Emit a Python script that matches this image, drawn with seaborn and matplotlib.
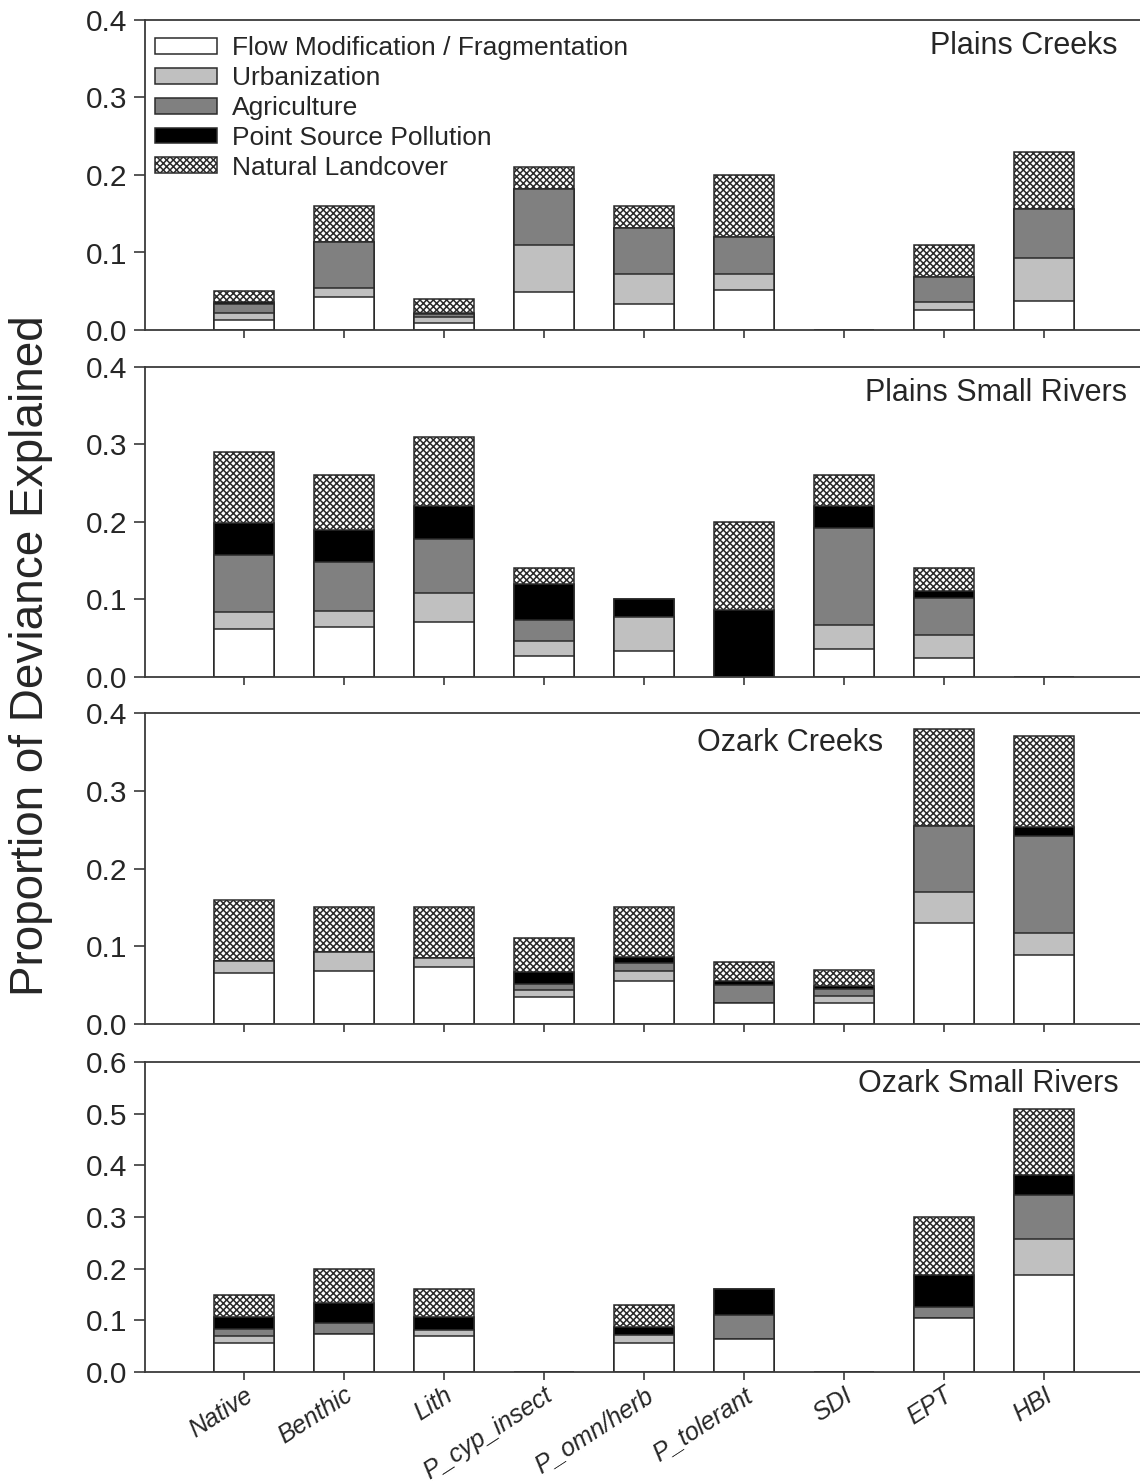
import matplotlib
matplotlib.use('Agg')
import matplotlib.pyplot as plt
import numpy as np
import seaborn as sns
from matplotlib.patches import Patch
from matplotlib.ticker import FormatStrFormatter, MultipleLocator

metrics = ['Native', 'Benthic', 'Lith', 'P_cyp_insect', 'P_omn/herb',
           'P_tolerant', 'SDI', 'EPT', 'HBI']
stressors = ['Flow Modification / Fragmentation', 'Urbanization',
             'Agriculture', 'Point Source Pollution', 'Natural Landcover']

# Plains Creeks
pc_flow = [0.013, 0.043, 0.009, 0.049, 0.034, 0.052, 0, 0.026, 0.037]
pc_urban = [0.009, 0.011, 0.008, 0.061, 0.038, 0.020, 0, 0.010, 0.056]
pc_agri = [0.011, 0.059, 0.004, 0.072, 0.060, 0.048, 0, 0.032, 0.063]
pc_point = [0.003, 0, 0.001, 0, 0, 0, 0, 0, 0]
pc_natural = [0.014, 0.047, 0.018, 0.028, 0.028, 0.080, 0, 0.042, 0.074]

# Plains Small Rivers
psr_flow = [0.062, 0.065, 0.071, 0.027, 0.034, 0, 0.036, 0.024, 0]
psr_urban = [0.022, 0.020, 0.037, 0.019, 0.043, 0, 0.031, 0.030, 0]
psr_agri = [0.073, 0.064, 0.070, 0.028, 0, 0, 0.125, 0.048, 0]
psr_point = [0.042, 0.041, 0.043, 0.046, 0.023, 0.086, 0.028, 0.009, 0]
psr_natural = [0.091, 0.070, 0.089, 0.020, 0, 0.114, 0.040, 0.029, 0]

# Ozark Creeks
oc_flow = [0.065, 0.068, 0.073, 0.035, 0.055, 0.027, 0.027, 0.130, 0.089]
oc_urban = [0.016, 0.024, 0.012, 0.009, 0.013, 0, 0.009, 0.040, 0.028]
oc_agri = [0, 0, 0, 0.007, 0.010, 0.023, 0.009, 0.085, 0.125]
oc_point = [0, 0, 0, 0.016, 0.008, 0.005, 0.004, 0, 0.012]
oc_natural = [0.079, 0.058, 0.065, 0.043, 0.064, 0.025, 0.021, 0.125, 0.116]

# Ozark Small Rivers
osr_flow = [0.056, 0.074, 0.070, 0, 0.056, 0.063, 0, 0.105, 0.188]
osr_urban = [0.014, 0, 0.011, 0, 0.015, 0, 0, 0, 0.069]
osr_agri = [0.014, 0.020, 0, 0, 0, 0.047, 0, 0.021, 0.086]
osr_point = [0.022, 0.039, 0.026, 0, 0.016, 0.050, 0, 0.061, 0.038]
osr_natural = [0.044, 0.067, 0.053, 0, 0.043, 0, 0, 0.113, 0.129]

panels = [
    ('Plains Creeks', [pc_flow, pc_urban, pc_agri, pc_point, pc_natural], 0.4),
    ('Plains Small Rivers', [psr_flow, psr_urban, psr_agri, psr_point, psr_natural], 0.4),
    ('Ozark Creeks', [oc_flow, oc_urban, oc_agri, oc_point, oc_natural], 0.4),
    ('Ozark Small Rivers', [osr_flow, osr_urban, osr_agri, osr_point, osr_natural], 0.6),
]

sns.set_style('ticks')
plt.rcParams['font.family'] = ['Liberation Sans', 'DejaVu Sans']
plt.rcParams['hatch.linewidth'] = 1.1

fills = ['white', '#c0c0c0', '#808080', 'black', 'white']
hatches = [None, None, None, None, 'xxxxx']
edge = '#2b2b2b'
spine_col = '#3a3a3a'

# axes boxes in pixels (top, bottom) of the 1140x1483 figure
W, H = 1140, 1483
boxes = [(20, 330), (367, 677), (713, 1024), (1062, 1372)]
left_px = 145

# title placement (x, y) in axes fraction, right aligned
title_pos = [(0.977, 0.916), (0.987, 0.916), (0.742, 0.904), (0.979, 0.929)]

fig = plt.figure(figsize=(W / 100, H / 100), dpi=100)

for i, (name, layers, ymax) in enumerate(panels):
    top, bot = boxes[i]
    ax = fig.add_axes([left_px / W, 1 - bot / H, 1 - left_px / W, (bot - top) / H])
    cum = np.cumsum(np.array(layers), axis=0)
    # draw from the tallest cumulative layer down so lower layers sit on top
    for k in reversed(range(len(layers))):
        sns.barplot(x=metrics, y=cum[k], order=metrics, color=fills[k],
                    saturation=1, width=0.6, edgecolor=edge, linewidth=1.1,
                    hatch=hatches[k], errorbar=None, ax=ax)

    ax.set_xlim(-0.99, 8.96)
    ax.set_ylim(0, ymax)
    ax.yaxis.set_major_locator(MultipleLocator(0.1))
    ax.yaxis.set_major_formatter(FormatStrFormatter('%.1f'))
    ax.set_xlabel('')
    ax.set_ylabel('')
    ax.spines['right'].set_visible(False)
    for s in ['top', 'left', 'bottom']:
        ax.spines[s].set_color(spine_col)
        ax.spines[s].set_linewidth(1.3)
    ax.tick_params(axis='y', direction='out', length=8, width=1.2,
                   color=spine_col, labelsize=21.5, pad=5)
    ax.tick_params(axis='x', direction='out', length=6, width=1.2,
                   color=spine_col, pad=2)

    tx, ty = title_pos[i]
    ax.text(tx, ty, name, transform=ax.transAxes, ha='right', va='center',
            fontsize=22)

    if i < 3:
        ax.tick_params(axis='x', labelbottom=False)
    else:
        ax.set_xticks(range(len(metrics)))
        ax.set_xticklabels(metrics, rotation=33, ha='right',
                           rotation_mode='anchor', fontsize=18,
                           style='italic')

    if i == 0:
        handles = [Patch(facecolor=fills[j], edgecolor=edge, hatch=hatches[j],
                         linewidth=1.1, label=stressors[j])
                   for j in range(len(stressors))]
        ax.legend(handles=handles, loc='upper left',
                  bbox_to_anchor=(0.010, 0.947), frameon=False,
                  fontsize=19, handlelength=2.35, handleheight=0.55,
                  handletextpad=0.57, labelspacing=0.22, borderpad=0,
                  borderaxespad=0)

fig.text(31 / W, 1 - 656 / H, 'Proportion of Deviance Explained',
         rotation=90, ha='center', va='center', fontsize=33)

fig.savefig('out.png', dpi=100)
